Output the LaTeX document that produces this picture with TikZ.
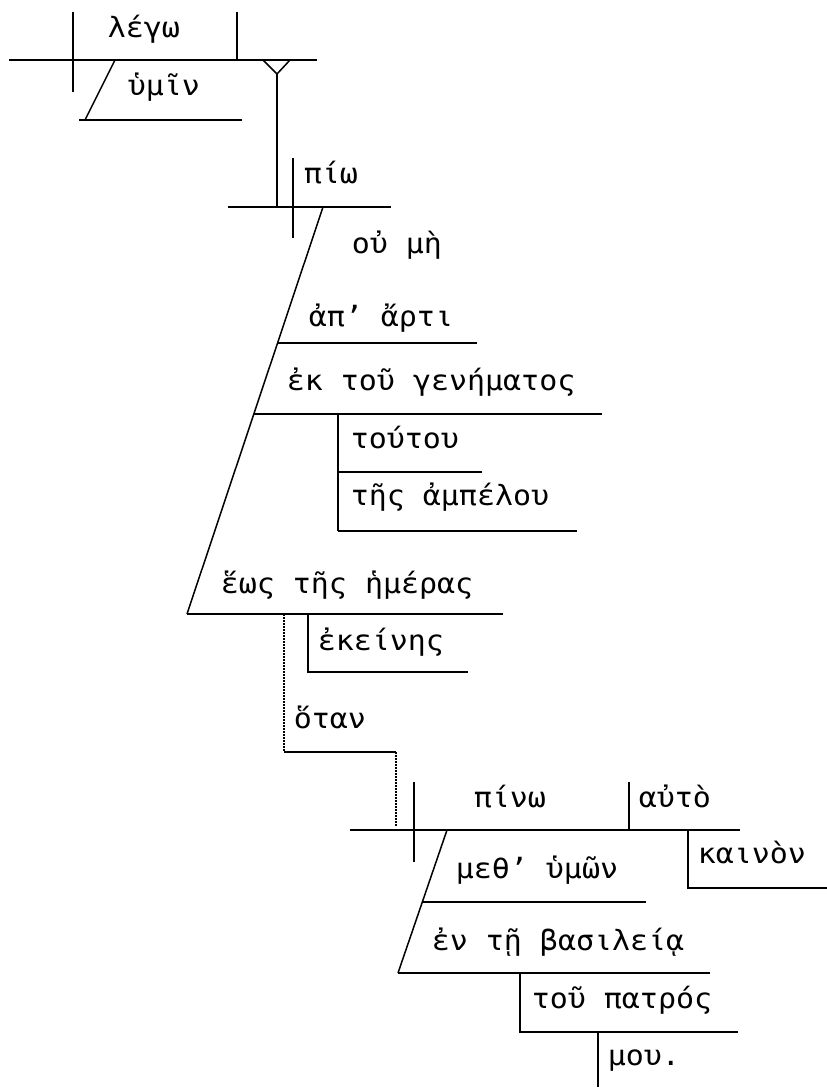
\documentclass[tikz,border=0pt]{standalone}
\usepackage{fontspec}
\newfontfamily\grk[FakeStretch=1.07]{DejaVu Sans Mono}
\newcommand{\wsize}{\fontsize{28}{32}\selectfont}

\begin{document}
\begin{tikzpicture}[x=1pt, y=-1pt, line width=1.5pt,
        word/.style={anchor=base west, inner sep=0pt, font=\grk\wsize},
        dotline/.style={line width=2pt, dash pattern=on 1.5pt off 1.5pt}]
        \useasboundingbox (0,0) rectangle (827,1088);
        % main clause
        \node[word] (lego) at (107, 37) {λέγω};
        \node[word] (humin) at (127, 95) {ὑμῖν};
        \draw (9,60) -- (317,60);
        \draw (73,12) -- (73,92);
        \draw (237,12) -- (237,60);
        \draw (115,60) -- (85,120);
        \draw (79,120) -- (242,120);
        \draw (263,60) -- (277,74) -- (290,60);
        \draw (277,74) -- (277,207);
        % object clause
        \node[word] (pio) at (303, 183) {πίω};
        \node[word] (oumh) at (351, 253) {οὐ μὴ};
        \node[word] (aparti) at (308, 326) {ἀπ’ ἄρτι};
        \node[word] (ek) at (286, 390) {ἐκ τοῦ γενήματος};
        \node[word] (toutou) at (350, 448) {τούτου};
        \node[word] (amp) at (350, 505) {τῆς ἀμπέλου};
        \node[word] (heos) at (220, 593) {ἕως τῆς ἡμέρας};
        \node[word] (ekein) at (317, 650) {ἐκείνης};
        \node[word] (hotan) at (293, 728) {ὅταν};
        \draw (228,207) -- (391,207);
        \draw (293,158) -- (293,238);
        \draw (323,207) -- (187,614);
        \draw (277,343) -- (477,343);
        \draw (254,414) -- (602,414);
        \draw (338,414) -- (338,531);
        \draw (338,472) -- (482,472);
        \draw (338,531) -- (577,531);
        \draw (187,614) -- (503,614);
        \draw (308,614) -- (308,672) -- (468,672);
        \draw[dotline] (284,614) -- (284,752);
        \draw (284,752) -- (396,752);
        \draw[dotline] (396,752) -- (396,827);
        % temporal clause
        \node[word] (pino) at (473, 807) {πίνω};
        \node[word] (auto) at (638, 807) {αὐτὸ};
        \node[word] (kainon) at (697, 863) {καινὸν};
        \node[word] (meth) at (455, 878) {μεθ’ ὑμῶν};
        \node[word] (basil) at (431, 950) {ἐν τῇ βασιλείᾳ};
        \node[word] (patr) at (531, 1008) {τοῦ πατρός};
        \node[word] (mou) at (607, 1065) {μου.};
        \draw (350,830) -- (740,830);
        \draw (414,782) -- (414,862);
        \draw (629,782) -- (629,830);
        \draw (688,830) -- (688,888) -- (827,888);
        \draw (447,830) -- (398,973);
        \draw (423,902) -- (646,902);
        \draw (398,973) -- (710,973);
        \draw (520,973) -- (520,1032) -- (738,1032);
        \draw (598,1032) -- (598,1087);
      \end{tikzpicture}
\end{document}
